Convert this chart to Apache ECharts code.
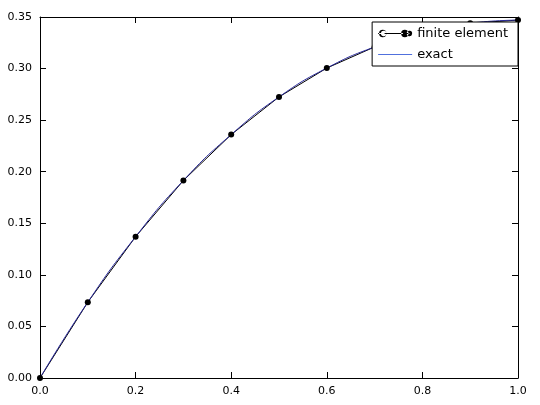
<!DOCTYPE html>
<html><head><meta charset="utf-8">
<script src="https://cdn.jsdelivr.net/npm/echarts@6/dist/echarts.min.js"></script>
<style>html,body{margin:0;padding:0;background:#fff}#c{width:540px;height:405px}</style>
</head><body><div id="c"></div>
<script>
const xs = [0,0.1,0.2,0.3,0.4,0.5,0.6,0.7,0.8,0.9,1.0];
const feVals = [0,0.0735,0.137,0.1915,0.236,0.2725,0.3005,0.321,0.3355,0.344,0.347];
const exactVals = [0,0.0735,0.137,0.1915,0.236,0.2725,0.3005,0.321,0.3355,0.344,0.347];
const chart = echarts.init(document.getElementById('c'));
const font = 'DejaVu Sans';
const ax = (pos, show, fmt) => ({position:pos,
    axisLine:{show:true,onZero:false,lineStyle:{color:'#000'}},
    axisTick:{show:true,inside:true,length:6,lineStyle:{color:'#000'}},
    axisLabel:{show:show,color:'#000',fontFamily:font,fontSize:11,formatter:fmt},
    splitLine:{show:false}});
chart.setOption({
  animation:false,
  grid:{left:40,right:22,top:17,bottom:27},
  xAxis:[Object.assign({type:'value',min:0,max:1,interval:0.2},ax('bottom',true,v=>v.toFixed(1))),
         Object.assign({type:'value',min:0,max:1,interval:0.2},ax('top',false))],
  yAxis:[Object.assign({type:'value',min:0,max:0.35,interval:0.05},ax('left',true,v=>v.toFixed(2))),
         Object.assign({type:'value',min:0,max:0.35,interval:0.05},ax('right',false))],
  series:[
    {name:'finite element',type:'line',data:xs.map((x,i)=>[x,feVals[i]]),
     symbol:'circle',symbolSize:6,itemStyle:{color:'#000'},lineStyle:{color:'#000',width:1}},
    {name:'exact',type:'line',smooth:true,data:xs.map((x,i)=>[x,exactVals[i]]),
     symbol:'none',lineStyle:{color:'#2a2a9a',width:1}}
  ],
  legend:{orient:'vertical',right:22,top:22,itemGap:8,itemWidth:34,itemHeight:10,z:10,
    backgroundColor:'#fff',borderColor:'#000',borderWidth:1,borderRadius:0,padding:[5,10,5,6],
    textStyle:{fontFamily:font,fontSize:13,color:'#000'},
    data:[{name:'finite element',icon:'path://M0,4.5L3,4.5A3,3 0 1 1 3,5.5L0,5.5Z M7,4.5L27,4.5L27,5.5L7,5.5Z M31,4.5A3,3 0 1 1 31,5.5L34,5.5L34,4.5Z M1,5A4,4 0 1 0 9,5A4,4 0 1 0 1,5Z M25,5A4,4 0 1 0 33,5A4,4 0 1 0 25,5Z'},
          {name:'exact',icon:'path://M0,4.5L34,4.5L34,5.5L0,5.5Z'}]}
});
</script></body></html>
